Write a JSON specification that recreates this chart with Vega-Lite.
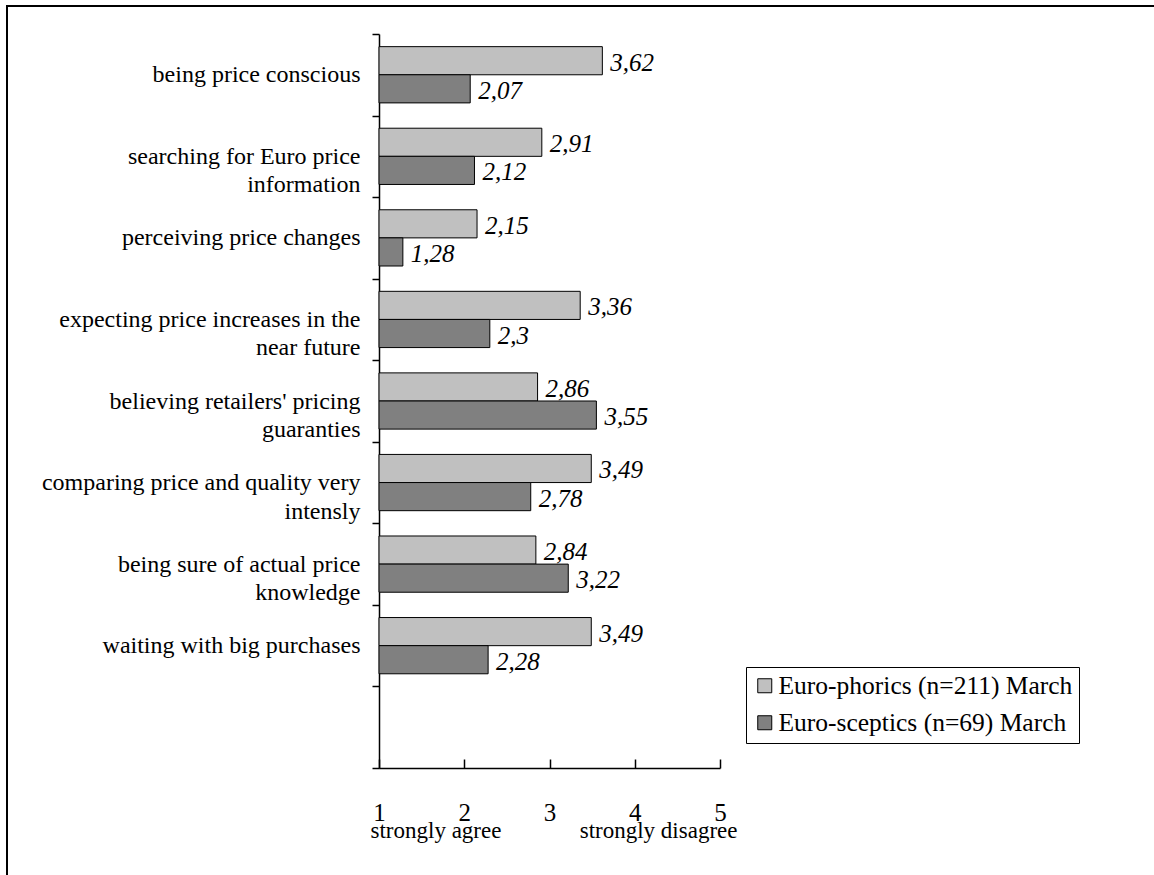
{
  "$schema": "https://vega.github.io/schema/vega-lite/v6.json",
  "autosize": {"type": "none"},
  "padding": {"left": 7, "top": 6, "right": 0, "bottom": 0},
  "width": 1160,
  "height": 880,
  "background": "white",
  "config": {
    "font": "Liberation Serif",
    "view": {"stroke": "black", "strokeWidth": 2},
    "locale": {"number": {"decimal": ",", "thousands": ".", "grouping": [3], "currency": ["", " €"]}},
    "axis": {"domainColor": "black", "tickColor": "black", "labelColor": "black", "grid": false, "title": null, "labelFont": "Liberation Serif"}
  },
  "data": {"values": [
    {"item": "being price conscious", "group": "Euro-phorics (n=211) March", "score": 3.62},
    {"item": "being price conscious", "group": "Euro-sceptics (n=69) March", "score": 2.07},
    {"item": "searching for Euro price information", "group": "Euro-phorics (n=211) March", "score": 2.91},
    {"item": "searching for Euro price information", "group": "Euro-sceptics (n=69) March", "score": 2.12},
    {"item": "perceiving price changes", "group": "Euro-phorics (n=211) March", "score": 2.15},
    {"item": "perceiving price changes", "group": "Euro-sceptics (n=69) March", "score": 1.28},
    {"item": "expecting price increases in the near future", "group": "Euro-phorics (n=211) March", "score": 3.36},
    {"item": "expecting price increases in the near future", "group": "Euro-sceptics (n=69) March", "score": 2.3},
    {"item": "believing retailers' pricing guaranties", "group": "Euro-phorics (n=211) March", "score": 2.86},
    {"item": "believing retailers' pricing guaranties", "group": "Euro-sceptics (n=69) March", "score": 3.55},
    {"item": "comparing price and quality very intensly", "group": "Euro-phorics (n=211) March", "score": 3.49},
    {"item": "comparing price and quality very intensly", "group": "Euro-sceptics (n=69) March", "score": 2.78},
    {"item": "being sure of actual price knowledge", "group": "Euro-phorics (n=211) March", "score": 2.84},
    {"item": "being sure of actual price knowledge", "group": "Euro-sceptics (n=69) March", "score": 3.22},
    {"item": "waiting with big purchases", "group": "Euro-phorics (n=211) March", "score": 3.49},
    {"item": "waiting with big purchases", "group": "Euro-sceptics (n=69) March", "score": 2.28}
  ]},
  "layer": [
    {
      "mark": {"type": "bar", "stroke": "black", "strokeWidth": 1},
      "encoding": {
        "y": {
          "field": "item", "type": "nominal", "sort": null,
          "scale": {
            "domain": ["being price conscious", "searching for Euro price information", "perceiving price changes", "expecting price increases in the near future", "believing retailers' pricing guaranties", "comparing price and quality very intensly", "being sure of actual price knowledge", "waiting with big purchases", " "],
            "range": [28, 762], "paddingInner": 0, "paddingOuter": 0
          },
          "axis": {
            "orient": "left", "offset": -372, "tickBand": "extent", "tickSize": 7,
            "labelPadding": 12, "labelFont": "Liberation Serif", "labelFontSize": 24, "labelLineHeight": 28.5, "labelLimit": 0,
            "domainWidth": 1.5, "tickWidth": 1.5,
            "labelExpr": "datum.label == \"searching for Euro price information\" ? [\"searching for Euro price\", \"information\"] : datum.label == \"expecting price increases in the near future\" ? [\"expecting price increases in the\", \"near future\"] : datum.label == \"believing retailers' pricing guaranties\" ? [\"believing retailers' pricing\", \"guaranties\"] : datum.label == \"comparing price and quality very intensly\" ? [\"comparing price and quality very\", \"intensly\"] : datum.label == \"being sure of actual price knowledge\" ? [\"being sure of actual price\", \"knowledge\"] : datum.label"
          }
        },
        "yOffset": {"field": "group", "type": "nominal", "scale": {"paddingOuter": 0.45, "paddingInner": 0}},
        "x": {
          "field": "score", "type": "quantitative",
          "scale": {"domain": [1, 5], "range": [372, 713], "zero": false, "nice": false},
          "axis": {
            "orient": "bottom", "offset": -118, "values": [1, 2, 3, 4, 5], "format": "d",
            "tickSize": -9, "tickWidth": 1.5, "domainWidth": 1.5, "labelPadding": 61, "labelBaseline": "alphabetic",
            "labelFont": "Liberation Serif", "labelFontSize": 25, "labelFlush": false
          }
        },
        "x2": {"datum": 1},
        "color": {
          "field": "group", "type": "nominal",
          "scale": {"domain": ["Euro-phorics (n=211) March", "Euro-sceptics (n=69) March"], "range": ["#c0c0c0", "#808080"]},
          "legend": {
            "orient": "none", "legendX": 739, "legendY": 661, "title": null,
            "strokeColor": "black", "padding": 6, "rowPadding": 10,
            "symbolType": "square", "symbolSize": 196, "symbolStrokeColor": "black", "symbolStrokeWidth": 1,
            "labelFont": "Liberation Serif", "labelFontSize": 25.5, "labelColor": "black", "labelOffset": 1, "labelLimit": 0
          }
        }
      }
    },
    {
      "mark": {"type": "text", "align": "left", "baseline": "middle", "dx": 8, "dy": 2, "fontStyle": "italic", "fontSize": 25, "font": "Liberation Serif", "color": "black"},
      "encoding": {
        "y": {"field": "item", "type": "nominal", "sort": null},
        "yOffset": {"field": "group", "type": "nominal"},
        "x": {
          "field": "score", "type": "quantitative",
          "axis": {
            "orient": "bottom", "offset": -118, "values": [1, 5], "domain": false, "ticks": false,
            "labelExpr": "datum.value == 1 ? 'strongly agree' : 'strongly disagree'",
            "labelFont": "Liberation Serif", "labelFontSize": 23, "labelPadding": 69, "labelBaseline": "alphabetic", "labelFlush": false,
            "labelAlign": {"condition": {"test": "datum.value == 1", "value": "left"}, "value": "right"},
            "labelOffset": {"condition": {"test": "datum.value == 1", "value": -9}, "value": 17}
          }
        },
        "text": {"field": "score", "type": "quantitative", "format": "~g"}
      }
    }
  ],
  "resolve": {"axis": {"x": "independent"}}
}
